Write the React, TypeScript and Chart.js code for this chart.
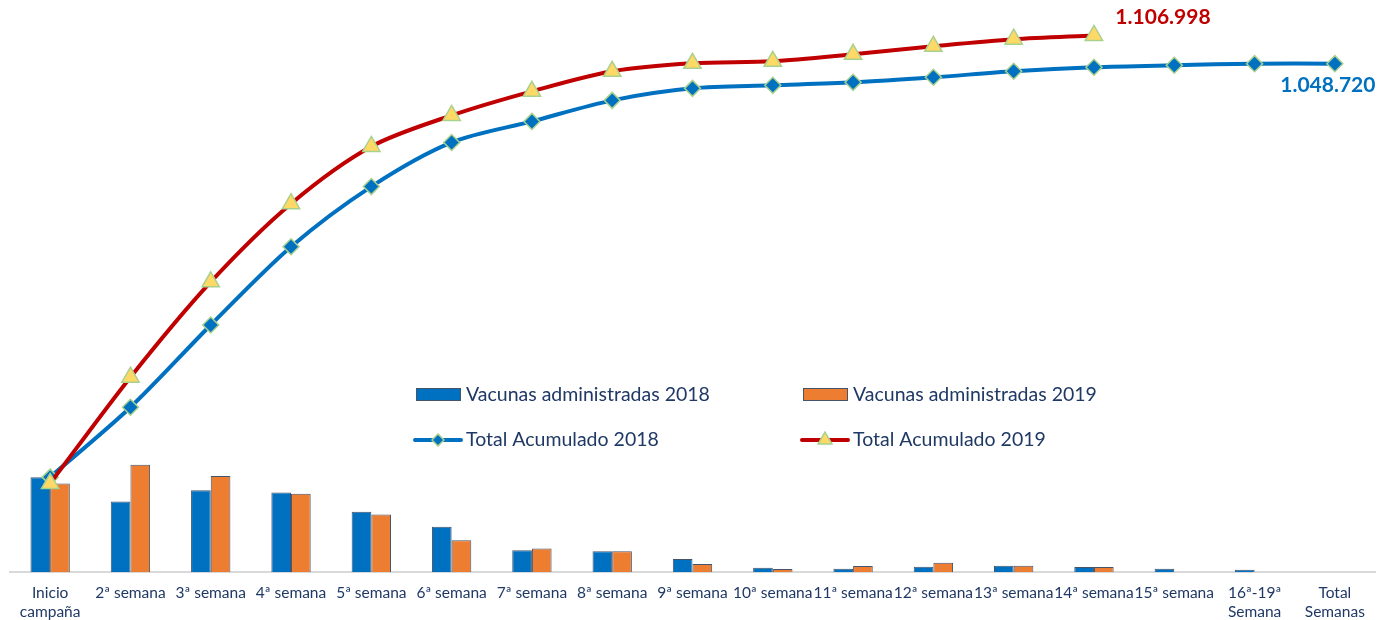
import React, { useEffect, useRef } from "react";
import { Chart, registerables } from "chart.js";

Chart.register(...registerables);

const categories: (string | string[])[] = [
  ["Inicio", "campaña"],
  "2ª semana",
  "3ª semana",
  "4ª semana",
  "5ª semana",
  "6ª semana",
  "7ª semana",
  "8ª semana",
  "9ª semana",
  "10ª semana",
  "11ª semana",
  "12ª semana",
  "13ª semana",
  "14ª semana",
  "15ª semana",
  ["16ª-19ª", "Semana"],
  ["Total", "Semanas"],
];

const vacunas2018 = [196000, 145800, 169200, 164400, 124500, 93500, 45100, 43000, 27300, 9300, 7200, 11400, 13400, 10800, 7200, 5200, null];
const vacunas2019 = [183000, 221700, 198100, 161700, 118900, 65800, 48600, 43000, 17000, 6600, 12800, 19600, 13400, 10800, null, null, null];
const acumulado2018 = [196000, 340200, 509800, 671100, 795200, 886200, 929600, 973000, 997800, 1004000, 1010200, 1020600, 1033000, 1041300, 1045400, 1048700, 1048720];
const acumulado2019 = [183000, 402200, 598700, 760000, 877900, 942000, 991600, 1033000, 1049500, 1053600, 1068100, 1084600, 1099100, 1106998, null, null, null];

const seriesNames = [
  "Vacunas administradas 2018",
  "Vacunas administradas 2019",
  "Total Acumulado 2018",
  "Total Acumulado 2019",
];
const finalLabel2018 = "1.048.720";
const finalLabel2019 = "1.106.998";

const BLUE = "#0070C0";
const ORANGE = "#ED7D31";
const RED = "#C00000";
const YELLOW = "#FFD966";
const GREEN_EDGE = "#A9D18E";
const BAR_EDGE = "#44546A";
const TEXT = "#1F3864";

const legendPlugin = {
  id: "customLegend",
  afterDraw(chart: any) {
    const ctx = chart.ctx;
    const ds = chart.data.datasets;
    const cols = [416, 803];
    const rows = [395, 440];
    ctx.save();
    ctx.font = "19.5px Lato";
    ctx.textBaseline = "middle";
    ctx.textAlign = "left";
    ds.forEach((d: any, i: number) => {
      const x = cols[i % 2];
      const y = rows[Math.floor(i / 2)];
      if (d.type === "bar") {
        ctx.fillStyle = d.backgroundColor;
        ctx.strokeStyle = BAR_EDGE;
        ctx.lineWidth = 1;
        ctx.fillRect(x, y - 7, 45, 13);
        ctx.strokeRect(x + 0.5, y - 6.5, 44, 12);
      } else {
        ctx.strokeStyle = d.borderColor;
        ctx.lineWidth = 4;
        ctx.lineCap = "round";
        ctx.beginPath();
        ctx.moveTo(x - 1, y);
        ctx.lineTo(x + 45, y);
        ctx.stroke();
        ctx.lineCap = "butt";
        ctx.fillStyle = d.pointBackgroundColor;
        ctx.strokeStyle = d.pointBorderColor;
        ctx.lineWidth = 1.5;
        const cx = x + 22;
        if (d.pointStyle === "triangle") {
          const r = 8;
          ctx.beginPath();
          ctx.moveTo(cx, y - r);
          ctx.lineTo(cx + r * 0.866, y + r / 2);
          ctx.lineTo(cx - r * 0.866, y + r / 2);
          ctx.closePath();
        } else {
          const r = 6;
          ctx.beginPath();
          ctx.moveTo(cx, y - r);
          ctx.lineTo(cx + r, y);
          ctx.lineTo(cx, y + r);
          ctx.lineTo(cx - r, y);
          ctx.closePath();
        }
        ctx.fill();
        ctx.stroke();
      }
      ctx.fillStyle = TEXT;
      ctx.fillText(d.label, x + 50, y);
    });
    ctx.restore();
  },
};

const finalLabelsPlugin = {
  id: "finalLabels",
  afterDatasetsDraw(chart: any) {
    const ctx = chart.ctx;
    ctx.save();
    ctx.font = "bold 21px Lato";
    ctx.textAlign = "center";
    ctx.textBaseline = "middle";
    const lastIdx = (arr: (number | null)[]) => {
      let k = arr.length - 1;
      while (k >= 0 && arr[k] == null) k--;
      return k;
    };
    const m19 = chart.getDatasetMeta(3);
    const p19 = m19.data[lastIdx(acumulado2019)];
    if (p19) {
      ctx.fillStyle = RED;
      ctx.fillText(finalLabel2019, p19.x + 69, p19.y - 18);
    }
    const m18 = chart.getDatasetMeta(2);
    const p18 = m18.data[lastIdx(acumulado2018)];
    if (p18) {
      ctx.fillStyle = BLUE;
      ctx.fillText(finalLabel2018, p18.x - 7, p18.y + 22);
    }
    ctx.restore();
  },
};

export default function App() {
  const ref = useRef<HTMLCanvasElement>(null);
  useEffect(() => {
    if (!ref.current) return;
    const chart = new Chart(ref.current, {
      data: {
        labels: categories as any,
        datasets: [
          {
            type: "bar",
            label: seriesNames[0],
            data: vacunas2018 as any,
            backgroundColor: BLUE,
            borderColor: BAR_EDGE,
            borderWidth: 1,
            categoryPercentage: 0.49,
            barPercentage: 1.0,
            order: 2,
          },
          {
            type: "bar",
            label: seriesNames[1],
            data: vacunas2019 as any,
            backgroundColor: ORANGE,
            borderColor: BAR_EDGE,
            borderWidth: 1,
            categoryPercentage: 0.49,
            barPercentage: 1.0,
            order: 2,
          },
          {
            type: "line",
            label: seriesNames[2],
            data: acumulado2018 as any,
            borderColor: BLUE,
            borderWidth: 4,
            tension: 0.3,
            pointStyle: "rectRot",
            pointRadius: 8,
            pointBackgroundColor: BLUE,
            pointBorderColor: GREEN_EDGE,
            pointBorderWidth: 1.5,
            clip: false,
            order: 1,
          },
          {
            type: "line",
            label: seriesNames[3],
            data: acumulado2019 as any,
            borderColor: RED,
            borderWidth: 4,
            tension: 0.3,
            pointStyle: "triangle",
            pointRadius: 10,
            pointBackgroundColor: YELLOW,
            pointBorderColor: GREEN_EDGE,
            pointBorderWidth: 1.5,
            clip: false,
            order: 0,
          },
        ],
      } as any,
      options: {
        responsive: false,
        animation: false,
        devicePixelRatio: 1,
        layout: { autoPadding: false, padding: { left: 10, right: 5, top: 0, bottom: -12 } },
        plugins: {
          legend: { display: false },
          tooltip: { enabled: false },
        },
        scales: {
          x: {
            grid: { display: false, drawTicks: false },
            border: { display: true, color: "#D9D9D9", width: 2 },
            ticks: {
              color: TEXT,
              font: { family: "Lato", size: 15.5, lineHeight: 1.22 },
              padding: 11,
              maxRotation: 0,
              minRotation: 0,
              autoSkip: false,
            },
          },
          y: { display: false, min: 0, max: 1180000 },
        },
      } as any,
      plugins: [legendPlugin, finalLabelsPlugin],
    });
    return () => chart.destroy();
  }, []);
  return (
    <div style={{ position: "fixed", left: 0, top: 0, width: 1380, height: 620, background: "#fff" }}>
      <canvas ref={ref} width={1380} height={620} />
    </div>
  );
}
